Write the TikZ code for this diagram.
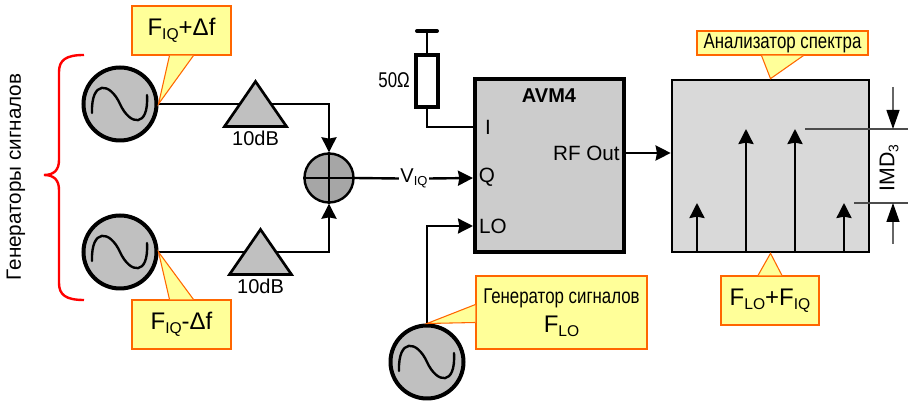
\documentclass[tikz,border=0pt]{standalone}
\usepackage{fontspec}
\setmainfont{Liberation Sans}
\newfontfamily\narrowfont[FakeStretch=0.79]{Liberation Sans}
\usetikzlibrary{arrows.meta,calc,shapes.geometric}
\definecolor{notefill}{RGB}{255,255,153}
\definecolor{noteline}{RGB}{255,102,0}
\definecolor{gengray}{RGB}{192,192,192}
\definecolor{boxgray}{RGB}{204,204,204}
\definecolor{specgray}{RGB}{217,217,217}
\definecolor{sumgray}{RGB}{166,166,166}
\newcommand{\lowtext}[1]{\raisebox{-0.35ex}{\scalebox{0.65}{#1}}}
\tikzset{
  % генератор
  gen/.style={circle, draw, line width=3pt, fill=gengray, minimum size=73*0.75pt, inner sep=0pt},
  % синусоида
  sinewave/.pic={
    \draw[line width=1.8pt, line cap=round] (-28,9) .. controls (-29,-24) and (-10,-22) .. (0,0)
      .. controls (10,22) and (29,24) .. (27,-9);
  },
  % усилитель
  amp/.style={isosceles triangle, isosceles triangle stretches, shape border rotate=90, anchor=apex,
    draw, line width=2pt, fill=gengray, inner sep=0pt, minimum width=62*0.75pt, minimum height=45*0.75pt},
  % блоки
  block/.style={rectangle, draw, line width=3pt, fill=boxgray, inner sep=0pt},
  % выноски
  note/.style={rectangle, draw=noteline, line width=0.8pt, fill=notefill, inner sep=0pt, align=center},
  tail/.style={draw=noteline, line width=0.8pt, fill=notefill},
  % провода
  wire/.style={line width=1.8pt},
  arr/.style={wire, -{Stealth[length=15*0.75pt, width=15*0.75pt, inset=1pt]}},
  lab/.style={font=\fontsize{15}{17}\selectfont, inner sep=0pt},
  nlab/.style={font=\fontsize{16}{18}\narrowfont, inner sep=0pt}
}
\begin{document}
\begin{tikzpicture}[x=0.75pt, y=-0.75pt]
    \useasboundingbox (0,0) rectangle (908,402);

    % сумматор
    \node[circle, draw, line width=1.8pt, fill=sumgray, minimum size=49*0.75pt, inner sep=0pt] (sum) at (329,178) {};
    \draw[wire] (sum.north) -- (sum.south);
    \draw[wire] (sum.west) -- (sum.east);

    % генераторы и усилители
    \node[gen] (genA) at (120,104) {};
    \node[gen] (genB) at (120,252) {};
    \node[gen] (genLO) at (427,362) {};
    \pic at (genA) {sinewave};
    \pic at (genB) {sinewave};
    \pic at (genLO) {sinewave};

    \draw[arr] (genA.east) -| (sum.north);
    \draw[arr] (genB.east) -| (sum.south);

    \node[amp] (ampA) at (255.5,78) {};
    \node[amp] (ampB) at (260.5,226) {};
    \node[lab, below=0pt] (ampAlab) at (255.5,131) {10dB};
    \node[lab, below=0pt] (ampBlab) at (260.5,279) {10dB};

    % AVM4
    \node[block, minimum width=149*0.75pt, minimum height=173*0.75pt] (avm) at (549.5,165.5) {};
    \node[lab, font=\fontsize{15}{17}\bfseries] (avmlab) at (549,96) {AVM4};
    \node[lab, font=\fontsize{15.5}{17}\selectfont] (portI) at (488,127) {I};
    \node[lab, font=\fontsize{15.5}{17}\selectfont] (portQ) at (487,177) {Q};
    \node[lab, font=\fontsize{15.5}{17}\selectfont] (portLO) at (493,226) {LO};
    \node[lab, font=\fontsize{15.5}{17}\selectfont, anchor=east] (portRF) at (620,153) {RF Out};

    % нагрузка
    \node[rectangle, draw, line width=3pt, fill=white, minimum width=22*0.75pt, minimum height=52*0.75pt, inner sep=0pt] (res) at (427,81) {};
    \node[nlab, anchor=east] (reslab) at (410,80) {50Ω};
    \coordinate (gnd) at (427,31);
    \coordinate (gndL) at (417,31);
    \coordinate (gndR) at (437,31);
    \coordinate (inI) at (avm.west |- portI);
    \coordinate (inQ) at (avm.west |- sum);
    \coordinate (inLO) at (avm.west |- portLO);
    \draw[wire] (res.north) -- (gnd);
    \draw[line width=3pt, line cap=round] (gndL) -- (gndR);
    \draw[wire] (res.south) |- (inI);

    % входы
    \node[lab, fill=white, inner xsep=1pt] (viq) at (414,178.5) {V\lowtext{IQ}};
    \draw[wire] (sum.east) -- (viq.west);
    \draw[arr] (viq.east) -- (inQ);
    \draw[arr] (genLO.north) |- (inLO);

    % анализатор
    \node[block, line width=2pt, fill=specgray, minimum width=197*0.75pt, minimum height=172*0.75pt] (spec) at (770.5,166) {};
    \coordinate (inSpec) at (spec.west |- portRF);
    \draw[arr] (avm.east |- portRF) -- (inSpec);

    \coordinate (baseA) at (697,252);
    \coordinate (baseB) at (746,252);
    \coordinate (baseC) at (795,252);
    \coordinate (baseD) at (844,252);
    \coordinate (topA) at (697,203);
    \coordinate (topB) at (746,129);
    \coordinate (topC) at (795,129);
    \coordinate (topD) at (844,203);
    \draw[arr] (baseA) -- (topA);
    \draw[arr] (baseB) -- (topB);
    \draw[arr] (baseC) -- (topC);
    \draw[arr] (baseD) -- (topD);

    % IMD3
    \coordinate (imdTopL) at (805,129);
    \coordinate (imdTopR) at (908,129);
    \coordinate (imdBotL) at (854,203);
    \coordinate (imdBotR) at (908,203);
    \coordinate (imdTopA) at (893,87);
    \coordinate (imdTopB) at (893,129);
    \coordinate (imdBotA) at (893,244);
    \coordinate (imdBotB) at (893,203);
    \draw[black!70, line width=1pt] (imdTopL) -- (imdTopR);
    \draw[black!70, line width=1pt] (imdBotL) -- (imdBotR);
    \draw[black!60, line width=1pt, -{Stealth[length=19*0.75pt, width=13*0.75pt, inset=0pt, black]}] (imdTopA) -- (imdTopB);
    \draw[black!60, line width=1pt, -{Stealth[length=19*0.75pt, width=13*0.75pt, inset=0pt, black]}] (imdBotA) -- (imdBotB);
    \node[lab, font=\fontsize{16}{18}\selectfont, rotate=90] (imdlab) at (889,168) {IMD\lowtext{3}};

    % выноски
    \node[note, minimum width=99*0.75pt, minimum height=49*0.75pt, font=\fontsize{18}{20}\selectfont] (noteA) at (181.5,30.5) {F\lowtext{IQ}+Δf};
    \node[note, minimum width=99*0.75pt, minimum height=49*0.75pt, font=\fontsize{18}{20}\selectfont] (noteB) at (181.5,324.5) {F\lowtext{IQ}-Δf};
    \node[note, minimum width=171*0.75pt, minimum height=73*0.75pt] (noteLO) at (561.5,312.5) {{\fontsize{16}{18}\narrowfont Генератор сигналов}\\[5pt]{\fontsize{18}{20}\selectfont F\lowtext{LO}}};
    \node[note, minimum width=171*0.75pt, minimum height=24*0.75pt, font=\fontsize{16}{18}\narrowfont] (noteSpec) at (782.5,43) {Анализатор спектра};
    \node[note, minimum width=98*0.75pt, minimum height=49*0.75pt, font=\fontsize{18}{20}\selectfont] (noteMix) at (770,300.5) {F\lowtext{LO}+F\lowtext{IQ}};

    \filldraw[tail] ($(noteA.south)+(-12,0)$) -- (genA.east) -- ($(noteA.south)+(12,0)$);
    \filldraw[tail] ($(noteB.north)+(-12,0)$) -- (genB.east) -- ($(noteB.north)+(12,0)$);
    \filldraw[tail] ($(noteLO.west)+(0,-8)$) -- (genLO.north) -- ($(noteLO.west)+(0,10)$);
    \filldraw[tail] ($(noteSpec.south)+(-21,0)$) -- (spec.north) -- ($(noteSpec.south)+(21,0)$);
    \filldraw[tail] ($(noteMix.north)+(-12,0)$) -- (spec.south) -- ($(noteMix.north)+(12,0)$);

    % скобка
    \coordinate (brA) at (84,55);
    \coordinate (brTip) at (44,175);
    \coordinate (brB) at (84,300);
    \draw[red, line width=1.8pt] (brA) .. controls (66,55) and (59,60) .. (59,72) -- (59,160)
      .. controls (59,170) and (54,175) .. (brTip) .. controls (54,175) and (59,180) .. (59,190) -- (59,283)
      .. controls (59,295) and (66,300) .. (brB);
    \node[lab, font=\fontsize{15.5}{17}\selectfont, rotate=90] (genlab) at (16,177) {Генераторы сигналов};
\end{tikzpicture}
\end{document}
